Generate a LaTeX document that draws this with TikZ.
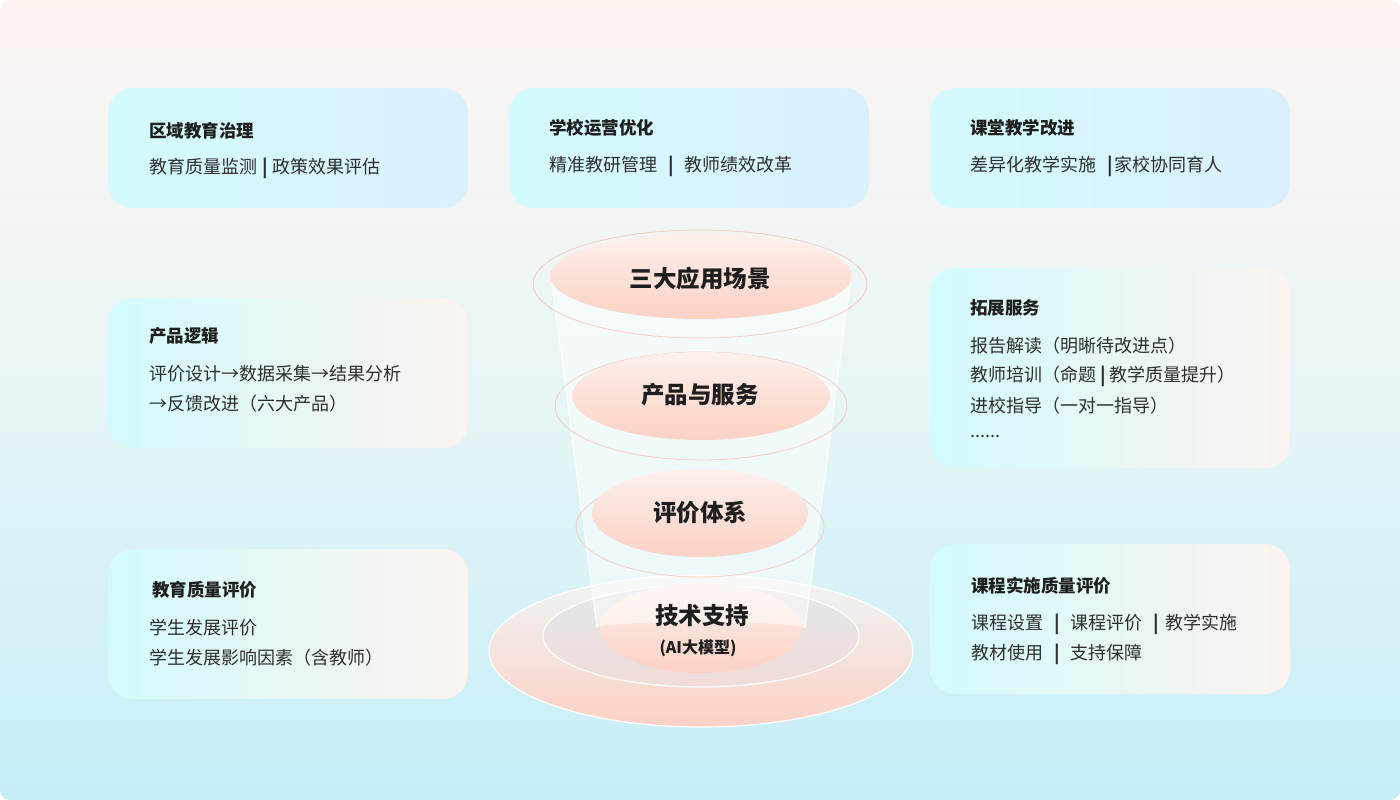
\documentclass[tikz,border=0pt]{standalone}
\usepackage{fontspec}
\setmainfont{Noto Sans CJK SC}
\usetikzlibrary{shapes.geometric}
\definecolor{bgtop}{HTML}{FDF4F0}
\definecolor{bgmid}{HTML}{E7F5F6}
\definecolor{bgbot}{HTML}{C6EEF7}
\definecolor{cyanl}{HTML}{D3FBFD}
\definecolor{bluer}{HTML}{DAF1FD}
\definecolor{warmr}{HTML}{FBF3EF}
\definecolor{peachtop}{HTML}{FEF0EC}
\definecolor{peachbot}{HTML}{FBD1C5}
\definecolor{platetop}{HTML}{E3E7EC}
\definecolor{platebot}{HTML}{F1DCD7}
\definecolor{outertop}{HTML}{EEF5F6}
\definecolor{ringc}{HTML}{F7CCBF}
\definecolor{titc}{HTML}{1E1E1E}
\definecolor{txtc}{HTML}{2E2E2E}
\newcommand{\barsep}[2]{\hspace{#1}\textbf{|}\hspace{#2}}
\tikzset{
  boxA/.style={left color=cyanl, right color=bluer, rounded corners=25pt},
  boxB/.style={left color=cyanl, right color=warmr, rounded corners=25pt},
  ttl/.style={anchor=west, inner sep=0pt, font=\bfseries\fontsize{17.5}{20}\selectfont, text=titc},
  bdy/.style={anchor=west, inner sep=0pt, font=\fontsize{18}{20}\selectfont, text=txtc},
  ctr/.style={inner sep=0pt, font=\bfseries\fontsize{23.5}{28}\selectfont, text=titc},
  ring/.style={draw=ringc, line width=0.8pt},
  disc/.style={top color=peachtop, bottom color=peachbot},
}
\begin{document}
\begin{tikzpicture}[x=1pt,y=-1pt]
\useasboundingbox (0,0) rectangle (1400,800);
\fill[white] (0,0) rectangle (1400,800);
\shade[top color=bgtop, bottom color=bgbot, middle color=bgmid, rounded corners=10pt] (0,0) rectangle (1400,800);

% ---------- boxes ----------
\shade[boxA] (108,88) rectangle (468,208);
\shade[boxA] (509,88) rectangle (869,208);
\shade[boxA] (930,88) rectangle (1290,208);
\shade[boxB] (108,298) rectangle (468,448);
\shade[boxB] (930,268) rectangle (1290,468);
\shade[boxB] (108,549) rectangle (468,699);
\shade[boxB] (930,544) rectangle (1290,694);

\node[ttl] (t1) at (149,131) {区域教育治理};
\node[bdy] (b1) at (149,168) {教育质量监测\barsep{5pt}{5pt}政策效果评估};

\node[ttl] (t2) at (549,128) {学校运营优化};
\node[bdy] (b2) at (549,166) {精准教研管理\barsep{11pt}{11pt}教师绩效改革};

\node[ttl] (t3) at (970,128) {课堂教学改进};
\node[bdy] (b3) at (970,166) {差异化教学实施\barsep{11pt}{2pt}家校协同育人};

\node[ttl] (t4) at (149,336) {产品逻辑};
\node[bdy] (b4a) at (149,374) {评价设计→数据采集→结果分析};
\node[bdy] (b4b) at (149,404) {→反馈改进（六大产品）};

\node[ttl] (t5) at (970,308) {拓展服务};
\node[bdy] (b5a) at (970,346) {报告解读（明晰待改进点）};
\node[bdy] (b5b) at (970,376) {教师培训（命题\barsep{4pt}{4pt}教学质量提升）};
\node[bdy] (b5c) at (970,406) {进校指导（一对一指导）};
\node[bdy] (b5d) at (970,436) {......};

\node[ttl] (t6) at (152,590) {教育质量评价};
\node[bdy] (b6a) at (149,628) {学生发展评价};
\node[bdy] (b6b) at (149,658) {学生发展影响因素（含教师）};

\node[ttl] (t7) at (971,586) {课程实施质量评价};
\node[bdy] (b7a) at (971,624) {课程设置\barsep{11pt}{11pt}课程评价\barsep{11pt}{6pt}教学实施};
\node[bdy] (b7b) at (971,654) {教材使用\barsep{11pt}{11pt}支持保障};

% ---------- funnel ----------
% base plates
\shade[top color=outertop, bottom color=peachbot] (701,651) ellipse [x radius=212pt, y radius=76pt];
\draw[white, line width=1.2pt] (701,651) ellipse [x radius=212pt, y radius=76pt];
\shade[top color=platetop, bottom color=platebot] (701,636) ellipse [x radius=158pt, y radius=51pt];
\draw[white, line width=1.2pt] (701,636) ellipse [x radius=158pt, y radius=51pt];
% bottom disc
\shade[disc] (701,628) ellipse [x radius=101pt, y radius=45pt];
% body
\fill[white, fill opacity=0.5] (551,277) -- (851,277) -- (805,628) arc[start angle=0, end angle=-180, x radius=104pt, y radius=-6pt] -- cycle;
\draw[white, opacity=0.8, line width=1.2pt] (551,277) -- (597,628);
\draw[white, opacity=0.8, line width=1.2pt] (851,277) -- (805,628);
% rings
\draw[ring] (700,527) ellipse [x radius=124pt, y radius=50pt];
\draw[ring] (701,406) ellipse [x radius=146pt, y radius=54pt];
\draw[ring] (700,284) ellipse [x radius=167pt, y radius=54pt];
% discs
\shade[disc] (700,513) ellipse [x radius=108pt, y radius=44pt];
\shade[disc] (701,396) ellipse [x radius=129pt, y radius=44pt];
\shade[disc] (701,276) ellipse [x radius=151pt, y radius=43pt];

\node[ctr] (c1) at (700,279) {三大应用场景};
\node[ctr] (c2) at (700,395) {产品与服务};
\node[ctr] (c3) at (700,513) {评价体系};
\node[ctr] (c4) at (702,616) {技术支持};
\node[inner sep=0pt, font=\bfseries\fontsize{16}{18}\selectfont, text=titc] (c5) at (698,648) {(AI大模型)};
\end{tikzpicture}
\end{document}
